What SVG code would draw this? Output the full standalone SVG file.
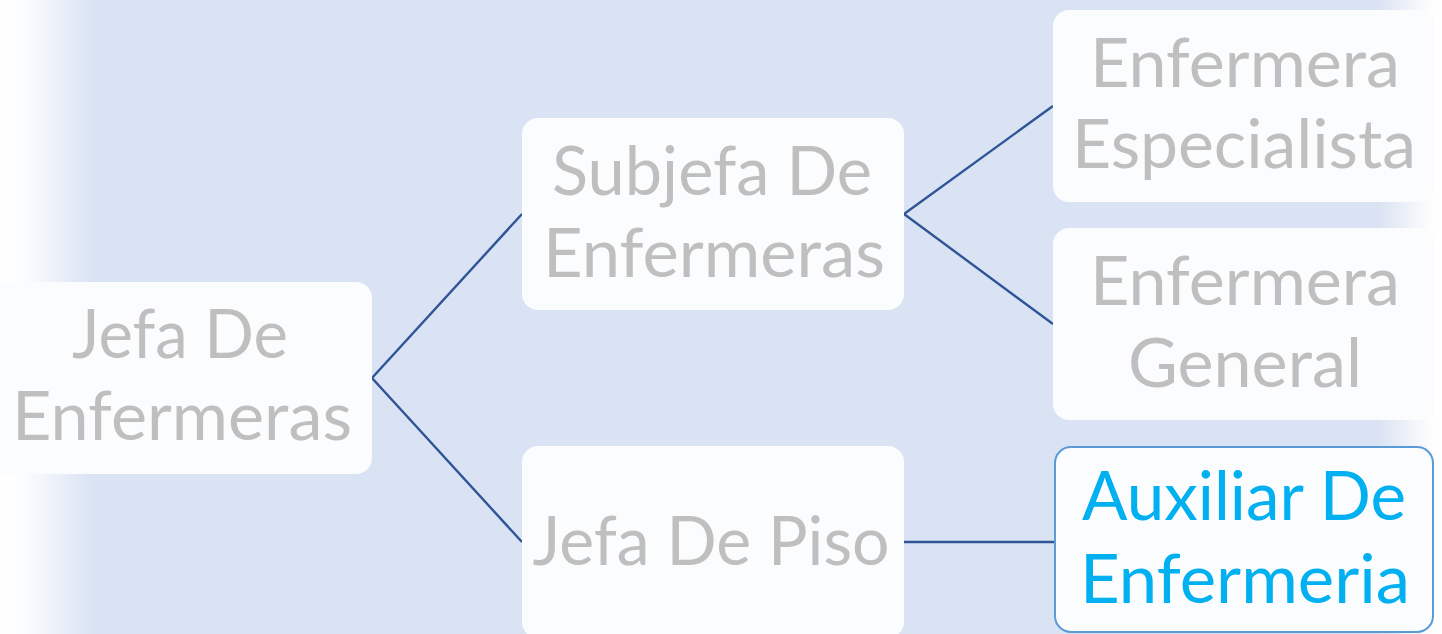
<svg xmlns="http://www.w3.org/2000/svg" width="1442" height="634" viewBox="0 0 1442 634">
<defs>
<linearGradient id="bg" x1="0" y1="0" x2="1442" y2="0" gradientUnits="userSpaceOnUse">
<stop offset="0" stop-color="#FFFFFF"/>
<stop offset="0.015" stop-color="#FCFDFE"/>
<stop offset="0.065" stop-color="#DAE3F3"/>
<stop offset="0.955" stop-color="#DAE3F3"/>
<stop offset="0.995" stop-color="#FFFFFF"/>
<stop offset="1" stop-color="#FFFFFF"/>
</linearGradient>
<style>
.box{fill:#FBFCFE;}
.hl{fill:#FBFCFE;stroke:#5B9BD5;stroke-width:2;}
.t{font-family:Lato,"Liberation Sans",sans-serif;font-size:68px;fill:#BFBFBF;text-anchor:middle;}
.tb{fill:#00B0F0;}
.c{stroke:#2F5597;stroke-width:2.4;fill:none;}
</style>
</defs>
<rect x="0" y="0" width="1442" height="634" fill="url(#bg)"/>
<g id="connectors">
<polyline class="c" points="522,214 372,378 522,542"/>
<polyline class="c" points="1053,106 904,214 1053,324"/>
<line class="c" x1="904" y1="542" x2="1055" y2="542"/>
</g>
<g id="n1">
<rect class="box" x="-20" y="282" width="392" height="192" rx="16"/>
<text class="t" x="180" y="358" textLength="216" lengthAdjust="spacingAndGlyphs">Jefa De</text>
<text class="t" x="182" y="440" textLength="340" lengthAdjust="spacingAndGlyphs">Enfermeras</text>
</g>
<g id="n2">
<rect class="box" x="522" y="118" width="382" height="192" rx="16"/>
<text class="t" x="712" y="195" textLength="320" lengthAdjust="spacingAndGlyphs">Subjefa De</text>
<text class="t" x="714" y="277" textLength="342" lengthAdjust="spacingAndGlyphs">Enfermeras</text>
</g>
<g id="n3">
<rect class="box" x="522" y="446" width="382" height="192" rx="16"/>
<text class="t" x="711" y="565" textLength="357" lengthAdjust="spacingAndGlyphs">Jefa De Piso</text>
</g>
<g id="n4">
<rect class="box" x="1053" y="10" width="382" height="192" rx="16"/>
<text class="t" x="1245" y="87" textLength="310" lengthAdjust="spacingAndGlyphs">Enfermera</text>
<text class="t" x="1244" y="168" textLength="344" lengthAdjust="spacingAndGlyphs">Especialista</text>
</g>
<g id="n5">
<rect class="box" x="1053" y="228" width="382" height="192" rx="16"/>
<text class="t" x="1245" y="305" textLength="310" lengthAdjust="spacingAndGlyphs">Enfermera</text>
<text class="t" x="1245" y="387" textLength="234" lengthAdjust="spacingAndGlyphs">General</text>
</g>
<g id="n6">
<rect class="hl" x="1055" y="447" width="378" height="185" rx="16"/>
<text class="t tb" x="1244" y="520" textLength="324" lengthAdjust="spacingAndGlyphs">Auxiliar De</text>
<text class="t tb" x="1245" y="603" textLength="330" lengthAdjust="spacingAndGlyphs">Enfermeria</text>
</g>
</svg>
